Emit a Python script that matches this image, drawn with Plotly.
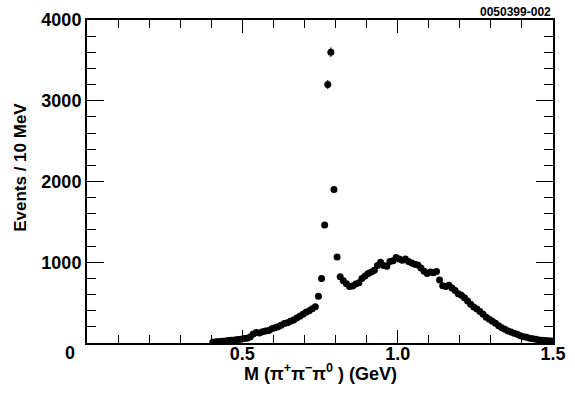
import numpy as np
import plotly.graph_objects as go

# M(pi+ pi- pi0) in GeV, bin centres (10 MeV bins)
mass = [round(0.405 + 0.01 * i, 3) for i in range(110)]

# events per 10 MeV
events = [
    10, 15, 18, 22, 25, 30, 35, 38, 42, 45,
    55, 60, 75, 110, 130, 125, 140, 150, 155, 175,
    190, 200, 220, 240, 250, 270, 285, 310, 330, 355,
    380, 400, 425, 450, 580, 800, 1460, 3200, 3600, 1900,
    1065, 820, 770, 735, 700, 705, 730, 745, 800, 830,
    860, 880, 900, 960, 1000, 960, 950, 1010, 1020, 1060,
    1040, 1025, 1040, 1010, 990, 975, 965, 930, 890, 860,
    880, 870, 885, 780, 710, 700, 715, 680, 650, 610,
    590, 560, 520, 480, 445, 420, 390, 355, 320, 295,
    270, 245, 215, 190, 170, 150, 135, 120, 108, 90,
    78, 70, 60, 52, 45, 38, 35, 30, 28, 25,
]

x_ticks = [0.5, 1.0, 1.5]
x_ticklabels = ["0.5", "1.0", "1.5"]
y_ticks = [1000, 2000, 3000, 4000]

font = "Liberation Sans, Arial, Helvetica, sans-serif"
bold = dict(family=font, color="black", weight="bold")

fig = go.Figure()
fig.add_trace(go.Scatter(
    x=mass, y=events, mode="markers",
    marker=dict(color="black", size=7),
    error_y=dict(type="data", array=np.sqrt(events), color="black", thickness=1, width=0),
    showlegend=False, hoverinfo="skip",
))

fig.update_xaxes(
    range=[0, 1.5], tickvals=x_ticks, ticktext=x_ticklabels,
    ticks="inside", ticklen=13, tickwidth=1, tickcolor="black",
    minor=dict(dtick=0.1, ticks="inside", ticklen=8, tickwidth=1, tickcolor="black"),
    showline=True, linewidth=2, linecolor="black", mirror="ticks",
    showgrid=False, zeroline=False, automargin=False,
    tickfont=dict(size=18, **bold), ticklabelstandoff=-7,
)
fig.update_yaxes(
    range=[0, 4000], tickvals=y_ticks,
    ticks="inside", ticklen=17, tickwidth=1, tickcolor="black",
    minor=dict(dtick=200, ticks="inside", ticklen=9, tickwidth=1, tickcolor="black"),
    showline=True, linewidth=2, linecolor="black", mirror="ticks",
    showgrid=False, zeroline=False, automargin=False,
    tickfont=dict(size=18, **bold),
)

# axis titles and the lone "0" at the corner
fig.add_annotation(text="M (π<sup>+</sup>π<sup>−</sup>π<sup>0</sup> ) (GeV)",
                   xref="paper", yref="paper", x=0.5, y=-0.092,
                   showarrow=False, xanchor="center", yanchor="middle",
                   font=dict(size=18, **bold))
fig.add_annotation(text="Events / 10 MeV", textangle=-90,
                   xref="paper", yref="paper", x=-0.142, y=0.545,
                   showarrow=False, xanchor="center", yanchor="middle",
                   font=dict(size=17, **bold))
fig.add_annotation(text="0", xref="paper", yref="paper", x=-0.036, y=-0.031,
                   showarrow=False, xanchor="center", yanchor="middle",
                   font=dict(size=18, **bold))
fig.add_annotation(text="0050399-002", xref="paper", yref="paper", x=1.0, y=1.0,
                   yshift=8, showarrow=False, xanchor="right", yanchor="middle",
                   font=dict(size=12, **bold))

fig.update_layout(
    width=575, height=396,
    margin=dict(l=87, r=22, t=20, b=53),
    plot_bgcolor="white", paper_bgcolor="white",
)

fig.write_html("out.html", config={"displayModeBar": False},
               post_script="document.body.style.margin='0';")
